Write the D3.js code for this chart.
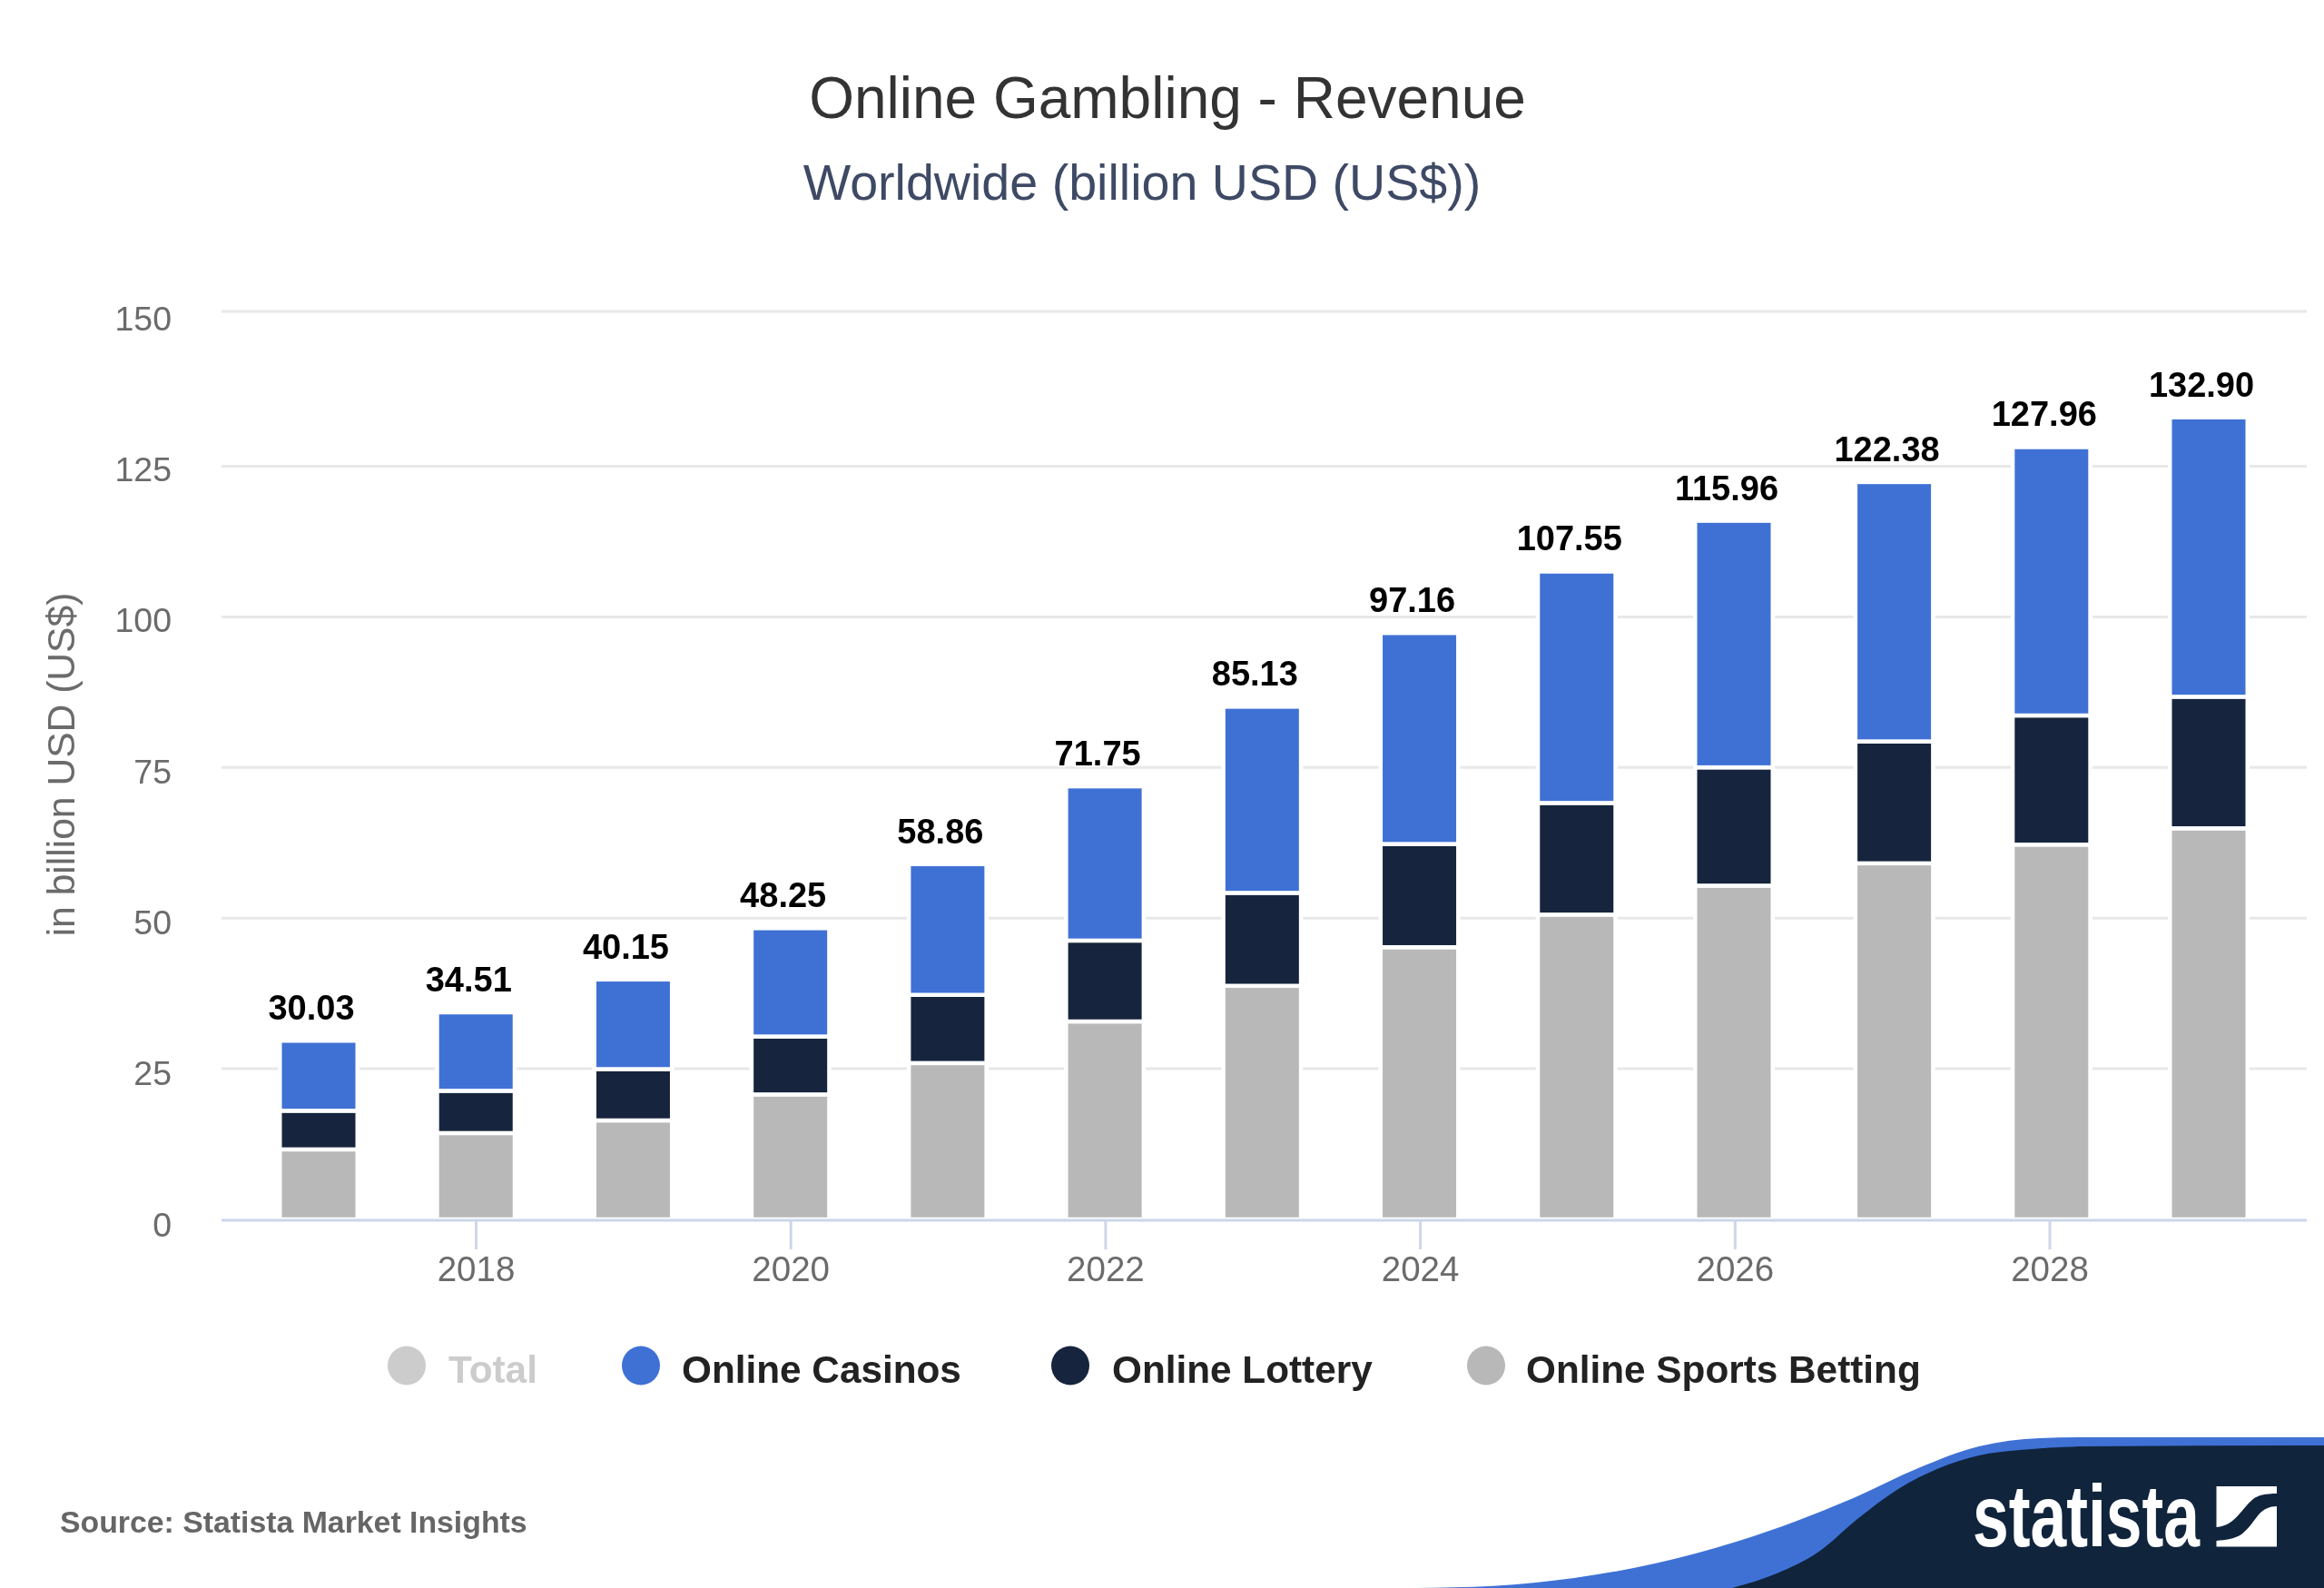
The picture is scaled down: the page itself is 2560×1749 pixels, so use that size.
<!DOCTYPE html>
<html>
<head>
<meta charset="utf-8">
<script src="https://cdn.jsdelivr.net/npm/d3@7/dist/d3.min.js"></script>
<style>
html,body{margin:0;padding:0;background:#fff;}
svg{display:block;filter:blur(0.6px);}
text{font-family:"Liberation Sans",Arial,sans-serif;}
</style>
</head>
<body>
<svg id="chart" width="2560" height="1749"></svg>
<script>
// Data
const years = [2017,2018,2019,2020,2021,2022,2023,2024,2025,2026,2027,2028,2029];
const totalLabels = ["30.03","34.51","40.15","48.25","58.86","71.75","85.13","97.16","107.55","115.96","122.38","127.96","132.90"];
const onlineSportsBetting = [11.6,14.3,16.4,20.7,25.9,32.8,38.7,45.1,50.5,55.3,59.0,62.1,64.8];
const onlineLottery = [6.4,7.0,8.5,9.6,11.3,13.4,15.4,17.1,18.5,19.6,20.2,21.4,21.8];
const onlineCasinos = [11.6,13.0,14.85,17.95,21.66,25.55,30.85,34.96,38.35,40.86,42.98,44.46,46.30];
const yTicks = [0,25,50,75,100,125,150];
const xTickYears = [2018,2020,2022,2024,2026,2028];
const legendNames = ["Total","Online Casinos","Online Lottery","Online Sports Betting"];

// Styles
const BLUE="#3f71d5", DARK="#16253d", GREY="#b8b8b8", TOTALGREY="#cccccc";
const svg = d3.select("#chart");

// Scales
const y = d3.scaleLinear().domain([0,150]).range([1343,345]);
const yBar = d3.scaleLinear().domain([0,150]).range([1343,346]);
const yGrid = d3.scaleLinear().domain([0,125,150]).range([1343,513.5,343]);
const x = d3.scaleLinear().domain([2017,2026,2027,2029]).range([351,1910,2086.6,2433]);
const xTick = d3.scaleLinear().domain([2018,2028]).range([524,2257.5]);
const barW = 85.5, barStroke = 4.5;

// Titles
svg.append("text").attr("x",1286).attr("y",130).attr("text-anchor","middle")
  .attr("font-size",64).attr("fill","#333333").text("Online Gambling - Revenue");
svg.append("text").attr("x",1258).attr("y",220).attr("text-anchor","middle")
  .attr("font-size",55.6).attr("fill","#3e4a65").text("Worldwide (billion USD (US$))");

// Grid
svg.append("g").selectAll("line").data(yTicks.filter(d=>d>0)).join("line")
  .attr("x1",244).attr("x2",2541)
  .attr("y1",d=>yGrid(d)).attr("y2",d=>yGrid(d))
  .attr("stroke","#e8e8e8").attr("stroke-width",3);

// Y axis labels
const yAxis = svg.append("g").attr("transform","translate(189,0)")
  .call(d3.axisLeft(y).tickValues(yTicks).tickSize(0).tickPadding(0));
yAxis.select(".domain").remove();
yAxis.selectAll("text").attr("font-size",37.5).attr("fill","#6b6b6b")
  .attr("font-family","Liberation Sans").attr("dy",null)
  .attr("transform","translate(0,18)");

// Y axis title
svg.append("text").attr("transform","translate(82,842) rotate(-90)")
  .attr("text-anchor","middle").attr("font-size",42.6).attr("fill","#6b6b6b")
  .text("in billion USD (US$)");

// Stacked bars
const rows = years.map((yr,i)=>({year:yr,sports:onlineSportsBetting[i],lottery:onlineLottery[i],casinos:onlineCasinos[i]}));
const stack = d3.stack().keys(["sports","lottery","casinos"]);
const colors = {sports:GREY,lottery:DARK,casinos:BLUE};
const series = stack(rows);
svg.append("g").selectAll("g").data(series).join("g")
  .attr("fill",d=>colors[d.key])
  .selectAll("rect").data(d=>d).join("rect")
  .attr("x",d=>x(d.data.year)-barW/2)
  .attr("width",barW)
  .attr("y",d=>yBar(d[1]))
  .attr("height",d=>yBar(d[0])-yBar(d[1]))
  .attr("stroke","#ffffff").attr("stroke-width",barStroke);

// X axis
const xAxis = svg.append("g").attr("transform","translate(0,1343)")
  .call(d3.axisBottom(xTick).tickValues(xTickYears).tickFormat(d3.format("d")).tickSize(33).tickPadding(0));
xAxis.select(".domain").remove();
xAxis.selectAll("line").attr("stroke","#ccd6eb").attr("stroke-width",3);
xAxis.selectAll("text").attr("font-size",38.5).attr("fill","#6b6b6b")
  .attr("font-family","Liberation Sans").attr("dy",null)
  .attr("y",68);
svg.append("line").attr("x1",244).attr("x2",2541).attr("y1",1344).attr("y2",1344)
  .attr("stroke","#ccd6eb").attr("stroke-width",3);

// Total labels (placed on the top of each stack)
svg.append("g").selectAll("text").data(series[2]).join("text")
  .attr("x",d=>x(d.data.year)-8)
  .attr("y",d=>yBar(d[1])-23)
  .attr("text-anchor","middle").attr("font-size",38).attr("font-weight","bold")
  .attr("fill","#000").attr("stroke","#fff").attr("stroke-width",4)
  .attr("paint-order","stroke").attr("stroke-linejoin","round")
  .text((d,i)=>totalLabels[i]);

// Legend
const legendCx = [448,706,1179,1637], legendTx = [494,751,1225,1681];
const legendCol = [TOTALGREY,BLUE,DARK,GREY], legendText = ["#cccccc","#222222","#222222","#222222"];
const lg = svg.append("g").selectAll("g").data(legendNames).join("g");
lg.append("ellipse").attr("cx",(d,i)=>legendCx[i]).attr("cy",1504).attr("rx",21).attr("ry",21.5)
  .attr("fill",(d,i)=>legendCol[i]);
lg.append("text").attr("x",(d,i)=>legendTx[i]).attr("y",1522.5).attr("font-size",42.3)
  .attr("font-weight","bold").attr("fill",(d,i)=>legendText[i]).text(d=>d);

// Source
svg.append("text").attr("x",66).attr("y",1688).attr("font-size",33.8).attr("font-weight","bold")
  .attr("fill","#666666").text("Source: Statista Market Insights");

// Statista corner
const curve = d3.line().curve(d3.curveMonotoneX);
const outer = [[1560,1749],[1645,1746.7],[1734,1738],[1823,1722],[1912.5,1698],[1979.5,1675],[2046,1648],[2113,1617],[2180,1593],[2247,1584],[2300,1583],[2560,1583]];
const inner = [[1908,1749],[1957,1733],[2002,1710],[2046,1673],[2091,1640],[2136,1617],[2180,1603],[2225,1597],[2300,1593],[2560,1592]];
svg.append("path").attr("d",curve(outer)+"L2560,1749Z").attr("fill",BLUE);
svg.append("path").attr("d",curve(inner)+"L2560,1749Z").attr("fill","#10243c");
svg.append("text").attr("x",2173).attr("y",1703).attr("font-size",96).attr("font-weight","bold")
  .attr("font-family","Liberation Sans Narrow").attr("fill","#fff")
  .attr("textLength",250).attr("lengthAdjust","spacingAndGlyphs").text("statista");
svg.append("path").attr("fill","#fff")
  .attr("d","M2441.5,1637H2508V1645C2495,1645 2487,1647 2482,1651C2475,1657 2472,1662 2468,1666C2460,1676 2452,1681 2441.5,1682Z");
svg.append("path").attr("fill","#fff")
  .attr("d","M2508,1659V1703.5H2441.5V1697C2452,1696 2461,1695 2469,1690C2477,1684 2483,1674 2489,1667C2494,1662 2500,1659 2508,1659Z");
</script>
</body>
</html>
